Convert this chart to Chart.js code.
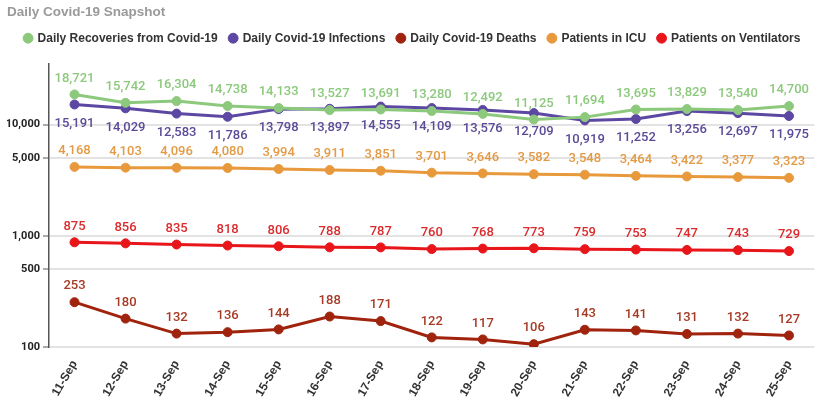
<!DOCTYPE html>
<html>
<head>
<meta charset="utf-8">
<script src="https://cdn.jsdelivr.net/npm/chart.js@4/dist/chart.umd.min.js"></script>
<style>
  html, body { margin: 0; padding: 0; background: #fff; }
  #wrap { width: 820px; height: 405px; }
</style>
</head>
<body>
<div id="wrap"><canvas id="myChart" width="820" height="405"></canvas></div>
<script>
// data
const dates = ['11-Sep', '12-Sep', '13-Sep', '14-Sep', '15-Sep', '16-Sep', '17-Sep', '18-Sep',
  '19-Sep', '20-Sep', '21-Sep', '22-Sep', '23-Sep', '24-Sep', '25-Sep'];
const recoveries = [18721, 15742, 16304, 14738, 14133, 13527, 13691, 13280, 12492, 11125, 11694, 13695, 13829, 13540, 14700];
const infections = [15191, 14029, 12583, 11786, 13798, 13897, 14555, 14109, 13576, 12709, 10919, 11252, 13256, 12697, 11975];
const deaths = [253, 180, 132, 136, 144, 188, 171, 122, 117, 106, 143, 141, 131, 132, 127];
const icu = [4168, 4103, 4096, 4080, 3994, 3911, 3851, 3701, 3646, 3582, 3548, 3464, 3422, 3377, 3323];
const ventilators = [875, 856, 835, 818, 806, 788, 787, 760, 768, 773, 759, 753, 747, 743, 729];
const yTicks = [100, 500, 1000, 5000, 10000];

const fmt = v => v.toLocaleString('en-US');

function series(label, data, color, labelColor, pos) {
  return {
    label, data,
    borderColor: color,
    backgroundColor: color,
    borderWidth: 3,
    pointRadius: 4.5,
    pointBorderWidth: 1,
    pointHoverRadius: 4.5,
    tension: 0,
    labelColor, labelPos: pos
  };
}

// simple value labels (no datalabels plugin here)
const valueLabels = {
  id: 'valueLabels',
  afterDatasetsDraw(chart) {
    const ctx = chart.ctx;
    ctx.save();
    ctx.font = '500 13px Roboto';
    ctx.textAlign = 'center';
    ctx.textBaseline = 'middle';
    chart.data.datasets.forEach((ds, i) => {
      const meta = chart.getDatasetMeta(i);
      ctx.fillStyle = ds.labelColor;
      meta.data.forEach((pt, j) => {
        const dy = ds.labelPos === 'below' ? 19 : -16;
        ctx.fillText(fmt(ds.data[j]), pt.x, pt.y + dy);
      });
    });
    ctx.restore();
  }
};

// a bit more room under the legend
const legendGap = {
  id: 'legendGap',
  afterInit(chart) {
    const lg = chart.legend;
    if (!lg) return;
    const fit = lg.fit;
    lg.fit = function () { fit.call(this); this.height += 10; };
  }
};

const data = {
  labels: dates,
  datasets: [
    series('Daily Recoveries from Covid-19', recoveries, '#8cc97c', '#8cc97c', 'above'),
    series('Daily Covid-19 Infections', infections, '#5c48a2', '#5c4a98', 'below'),
    series('Daily Covid-19 Deaths', deaths, '#a0230d', '#a63a24', 'above'),
    series('Patients in ICU', icu, '#e8993c', '#e39a45', 'above'),
    series('Patients on Ventilators', ventilators, '#e8161b', '#dc2a2c', 'above')
  ]
};

const config = {
  type: 'line',
  data,
  plugins: [valueLabels, legendGap],
  options: {
    responsive: false,
    animation: false,
    layout: { padding: { left: 7, right: 2, top: 0, bottom: 0 } },
    scales: {
      x: {
        offset: true,
        grid: { display: false },
        border: { display: false },
        ticks: {
          color: '#333',
          font: { family: 'Liberation Sans', weight: 'bold', size: 12 },
          maxRotation: 60, minRotation: 60,
          autoSkip: false
        },
        afterFit: s => { s.height = 58; }
      },
      y: {
        type: 'logarithmic',
        min: 100,
        max: 35000,
        afterBuildTicks: s => { s.ticks = yTicks.map(v => ({ value: v })); },
        afterFit: s => { s.width = 42; },
        border: { display: true, color: '#555', width: 1.5 },
        grid: {
          color: '#e3e3e3',
          lineWidth: 2,
          tickColor: '#555',
          tickLength: 6,
          tickWidth: 1
        },
        ticks: {
          color: '#222',
          font: { family: 'Roboto', weight: 'bold', size: 11 },
          padding: 3,
          callback: v => fmt(v)
        }
      }
    },
    plugins: {
      title: {
        display: true,
        text: 'Daily Covid-19 Snapshot',
        align: 'start',
        color: '#9a9a9a',
        font: { family: 'Liberation Sans', weight: 'bold', size: 13.5 },
        padding: { top: 4, bottom: 0 }
      },
      legend: {
        display: true,
        labels: {
          usePointStyle: true,
          pointStyle: 'circle',
          boxWidth: 7,
          boxHeight: 7,
          padding: 12,
          color: '#333',
          font: { family: 'Liberation Sans', weight: 'bold', size: 12 }
        }
      },
      tooltip: { enabled: false }
    }
  }
};

const myChart = new Chart(document.getElementById('myChart'), config);
</script>
</body>
</html>
